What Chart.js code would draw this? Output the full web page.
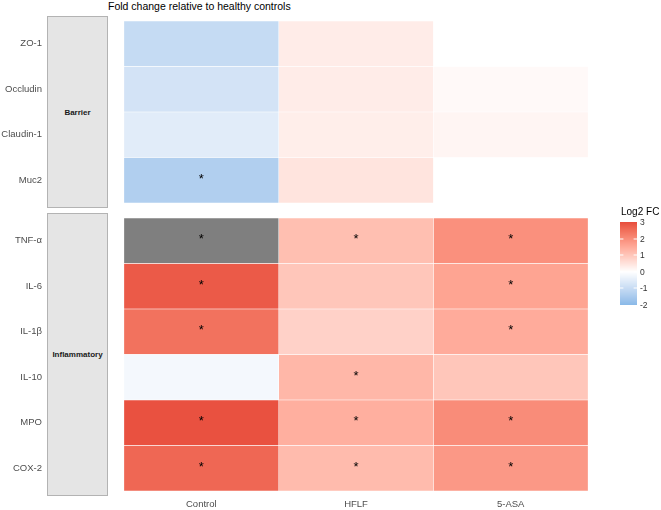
<!DOCTYPE html>
<html><head><meta charset="utf-8">
<script src="https://cdn.jsdelivr.net/npm/chart.js@4.4.1/dist/chart.umd.min.js"></script>
<style>
body{margin:0;background:#fff;font-family:"Liberation Sans",Arial,sans-serif;}
#wrap{position:relative;width:661px;height:510px;overflow:hidden;background:#fff}
canvas{position:absolute}
.strip{position:absolute;left:47px;width:59px;background:#e5e5e5;border:1px solid #b3b3b3;display:flex;align-items:center;justify-content:center;font-weight:bold;font-size:8px;color:#1a1a1a}
#title{position:absolute;left:108px;top:0;font-size:10.5px;line-height:12px;color:#000;white-space:nowrap}
#legTitle{position:absolute;left:621px;top:206px;font-size:10px;line-height:12px;color:#000;white-space:nowrap}
.legLab{position:absolute;left:640px;font-size:8.5px;line-height:10px;color:#333}
</style></head>
<body><div id="wrap">
<div id="title">Fold change relative to healthy controls</div>
<div class="strip" style="top:16px;height:190px">Barrier</div>
<div class="strip" style="top:213px;height:281px">Inflammatory</div>
<canvas id="c1" width="661" height="192" style="left:0;top:16px"></canvas>
<canvas id="c2" width="661" height="297" style="left:0;top:213px"></canvas>
<div id="legTitle">Log2 FC</div>
<canvas id="cbar" width="17" height="83" style="left:620px;top:222px"></canvas>
<div id="legLabels"></div>
</div>
<script>
// ---- data ----
const groups = ["Control", "HFLF", "5-ASA"];
const rowsBarrier = ["ZO-1", "Occludin", "Claudin-1", "Muc2"];
const rowsInflam = ["TNF-α", "IL-6", "IL-1β", "IL-10", "MPO", "COX-2"];

const barrierControl = [-1.02, -0.79, -0.54, -1.36];
const barrierHFLF    = [0.33, 0.33, 0.30, 0.47];
const barrier5ASA    = [null, 0.10, 0.17, null];
const barrierSigControl = [0, 0, 0, 1];
const barrierSigHFLF    = [0, 0, 0, 0];
const barrierSig5ASA    = [0, 0, 0, 0];

const inflamControl = [3.4, 2.80, 2.43, -0.19, 2.93, 2.60];
const inflamHFLF    = [1.13, 1.00, 0.80, 1.27, 1.40, 1.20];
const inflam5ASA    = [1.93, 1.60, 1.47, 1.00, 2.00, 1.80];
const inflamSigControl = [1, 1, 1, 0, 1, 1];
const inflamSigHFLF    = [1, 0, 0, 1, 1, 1];
const inflamSig5ASA    = [1, 1, 1, 0, 1, 1];

const legendTicks = [3, 2, 1, 0, -1, -2];
const scaleMin = -2, scaleMax = 3;

// ---- colour scale (gradient2 in Lab, midpoint 0) ----
const LOW = "#3498DB", MID = "#FFFFFF", HIGH = "#E74C3C", NA_COL = "#7F7F7F";
function hexToRgb(h){h=h.replace('#','');return [0,2,4].map(i=>parseInt(h.substr(i,2),16));}
function s2l(c){c/=255;return c<=0.04045?c/12.92:Math.pow((c+0.055)/1.055,2.4);}
function l2s(c){const v=c<=0.0031308?12.92*c:1.055*Math.pow(c,1/2.4)-0.055;return Math.round(Math.max(0,Math.min(1,v))*255);}
function rgbToLab(rgb){const [R,G,B]=rgb.map(s2l);
  const X=(0.4124564*R+0.3575761*G+0.1804375*B)/0.95047;
  const Y=(0.2126729*R+0.7151522*G+0.0721750*B);
  const Z=(0.0193339*R+0.1191920*G+0.9503041*B)/1.08883;
  const f=t=>t>0.008856?Math.cbrt(t):7.787*t+16/116;
  return [116*f(Y)-16,500*(f(X)-f(Y)),200*(f(Y)-f(Z))];}
function labToRgb([L,a,b]){const fy=(L+16)/116,fx=fy+a/500,fz=fy-b/200;
  const fi=t=>t*t*t>0.008856?t*t*t:(t-16/116)/7.787;
  const X=fi(fx)*0.95047,Y=fi(fy),Z=fi(fz)*1.08883;
  const R=3.2404542*X-1.5371385*Y-0.4985314*Z;
  const G=-0.9692660*X+1.8760108*Y+0.0415560*Z;
  const B=0.0556434*X-0.2040259*Y+1.0572252*Z;
  return [l2s(R),l2s(G),l2s(B)];}
const labLow=rgbToLab(hexToRgb(LOW)),labMid=rgbToLab(hexToRgb(MID)),labHigh=rgbToLab(hexToRgb(HIGH));
const maxAbs=Math.max(Math.abs(scaleMin),Math.abs(scaleMax));
function fillColor(v){
  if(v==null) return 'rgba(0,0,0,0)';
  if(v<scaleMin||v>scaleMax) return NA_COL;
  const t=Math.abs(v)/maxAbs; const end=v>=0?labHigh:labLow;
  const lab=labMid.map((m,i)=>m+(end[i]-m)*t);
  const [r,g,b]=labToRgb(lab); return `rgb(${r},${g},${b})`;
}

// ---- stars plugin ----
const starPlugin={id:'stars',afterDatasetsDraw(chart){
  const ctx=chart.ctx; ctx.save();
  ctx.fillStyle='#000'; ctx.font='13px "Liberation Sans", Arial, sans-serif';
  ctx.textAlign='center'; ctx.textBaseline='middle';
  chart.data.datasets.forEach((ds,di)=>{
    const meta=chart.getDatasetMeta(di);
    meta.data.forEach((el,i)=>{
      if(!ds.sig[i]||ds.data[i]==null) return;
      const p=el.getCenterPoint();
      ctx.fillText('*',p.x,p.y-1);
    });
  });
  ctx.restore();
}};

const labelFont={family:'"Liberation Sans", Arial, sans-serif',size:9.5};
function makeChart(id,rows,series,sigs,showX,padTop,padBottom){
  const datasets=groups.map((g,c)=>({
    label:g,
    data:series[c].map(v=>v==null?null:[c-0.5,c+0.5]),
    sig:sigs[c],
    backgroundColor:ctx=>fillColor(series[c][ctx.dataIndex]),
    borderColor:'#ffffff',borderWidth:0.5,borderSkipped:false,
    grouped:false,barPercentage:1,categoryPercentage:1
  }));
  return new Chart(document.getElementById(id),{
    type:'bar',
    data:{labels:rows,datasets},
    options:{
      indexAxis:'y',responsive:false,animation:false,
      layout:{padding:{top:padTop,bottom:padBottom,left:0,right:57.5}},
      plugins:{legend:{display:false},tooltip:{enabled:false}},
      scales:{
        x:{type:'linear',min:-0.6,max:2.6,display:showX,
           grid:{display:false,drawTicks:false},border:{display:false},
           afterBuildTicks(s){s.ticks=groups.map((_,i)=>({value:i}));},
           ticks:{callback:v=>groups[v]??'',padding:8,font:labelFont,color:'#4d4d4d',maxRotation:0,autoSkip:false},
           afterFit(s){s.height=showX?19:0;s.paddingLeft=0;s.paddingRight=0;}},
        y:{type:'category',
           grid:{display:false,drawTicks:false},border:{display:false},
           ticks:{padding:66.5,font:labelFont,color:'#4d4d4d',autoSkip:false},
           afterFit(s){s.width=108.5;s.paddingTop=0;s.paddingBottom=0;}}
      }
    },
    plugins:[starPlugin]
  });
}
makeChart('c1',rowsBarrier,[barrierControl,barrierHFLF,barrier5ASA],[barrierSigControl,barrierSigHFLF,barrierSig5ASA],false,5,5);
makeChart('c2',rowsInflam,[inflamControl,inflamHFLF,inflam5ASA],[inflamSigControl,inflamSigHFLF,inflamSig5ASA],true,5,0);

// ---- colour bar legend ----
(function(){
  const cv=document.getElementById('cbar'),ctx=cv.getContext('2d');
  const H=cv.height,W=cv.width;
  for(let y=0;y<H;y++){
    const v=scaleMax-(y+0.5)/H*(scaleMax-scaleMin);
    ctx.fillStyle=fillColor(v); ctx.fillRect(0,y,W,1);
  }
  ctx.fillStyle='#ffffff';
  legendTicks.forEach(t=>{
    if(t===scaleMax||t===scaleMin) return;
    const y=(scaleMax-t)/(scaleMax-scaleMin)*H;
    ctx.fillRect(0,Math.round(y)-0.5,3.4,1);
    ctx.fillRect(W-3.4,Math.round(y)-0.5,3.4,1);
  });
  const box=document.getElementById('legLabels');
  legendTicks.forEach(t=>{
    const y=222+(scaleMax-t)/(scaleMax-scaleMin)*H;
    const d=document.createElement('div');d.className='legLab';
    d.style.top=(y-5)+'px';d.textContent=String(t);
    box.appendChild(d);
  });
})();
</script>
</body></html>
